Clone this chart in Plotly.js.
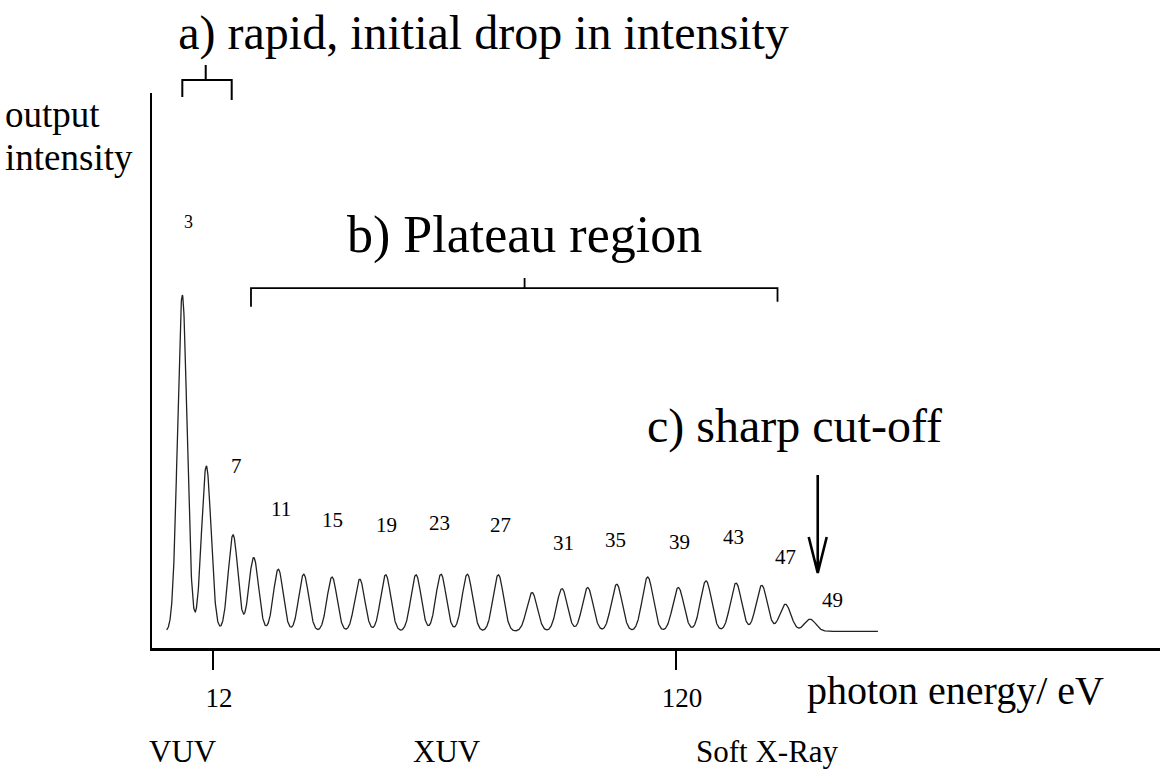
<!DOCTYPE html>
<html><head><meta charset="utf-8">
<script src="https://cdn.plot.ly/plotly-3.0.1.min.js"></script>
<style>html,body{margin:0;padding:0;background:#fff}#chart{width:1161px;height:772px}</style>
</head><body><div id="chart"></div>
<script>
// ---- data ----
const harmonicOrder = [3,5,7,9,11,13,15,17,19,21,23,25,27,29,31,33,35,37,39,41,43,45,47,49];
const peakEnergyEv  = [4.84,10.44,16.67,21.49,27.23,33.16,39.76,46.22,52.28,59.35,65.18,71.32,78.55,86.41,93.41,99.40,106.17,113.40,120.54,127.00,134.00,139.99,145.50,151.26];
const peakIntensity = [63.6,32.8,20.4,16.3,14.2,13.3,12.8,12.4,13.2,13.2,13.3,13.3,13.2,10.0,10.7,10.9,11.5,12.8,10.9,12.1,11.7,11.3,7.9,5.2];
const backgroundLevel = 3.0;
const spectrumStartEv = 1.2;
const spectrumEndEv = 167.1;
const labelledOrders = [3,7,11,15,19,23,27,31,35,39,43,47,49];
const tickEnergies = [12,120];
const tickLabels = ['12','120'];
const bandNames = ['VUV','XUV','Soft X-Ray'];
const bandCentreEv = [5.1,66.6,141.3];

// ---- build the spectrum line from the harmonic peaks ----
const xs = [], ys = [];
const step = 0.05;
const n = Math.round((spectrumEndEv - spectrumStartEv) / step);
for (let i = 0; i <= n; i++) {
  const e = spectrumStartEv + i * step;
  let v = backgroundLevel;
  for (let k = 0; k < harmonicOrder.length; k++) {
    const s = 1.1 + 0.0015 * peakEnergyEv[k];
    const d = e - peakEnergyEv[k];
    v += (peakIntensity[k] - backgroundLevel) * Math.exp(-d * d / (2 * s * s));
  }
  xs.push(e); ys.push(v);
}

const SERIF = 'Liberation Serif, Times New Roman, serif';

// label placement relative to each peak tip (pixels)
const labelOffset = {3:[6,73,18],7:[3,69,21],11:[3,60,21],15:[0,57,21],19:[1,50,21],23:[-1,51,21],27:[2,50,21],
  31:[1,46,21],35:[-1,44,21],39:[1,46,21],43:[-3,46,21],47:[0,47,21],49:[22,19,21]};

const annotations = [];
labelledOrders.forEach(o => {
  const k = harmonicOrder.indexOf(o);
  const off = labelOffset[o];
  annotations.push({x: peakEnergyEv[k], y: peakIntensity[k], xref:'x', yref:'y', text: String(o),
    showarrow:false, xanchor:'center', yanchor:'middle', xshift: off[0], yshift: off[1],
    font:{family:SERIF, size: off[2], color:'#000'}});
});
bandNames.forEach((b,i) => {
  annotations.push({x: bandCentreEv[i], y: -0.1865, xref:'x', yref:'paper', text:b, showarrow:false,
    xanchor:'center', yanchor:'middle', font:{family:SERIF, size:31, color:'#000'}});
});
annotations.push({x:150.1, y:-0.077, xref:'x', yref:'paper', text:'photon energy/ eV', showarrow:false,
  xanchor:'left', yanchor:'middle', font:{family:SERIF, size:40, color:'#000'}});
annotations.push({x:-0.1468, y:0.9604, xref:'paper', yref:'paper', text:'output', showarrow:false,
  xanchor:'left', yanchor:'middle', font:{family:SERIF, size:37, color:'#000'}, borderpad:0});
annotations.push({x:-0.1468, y:0.8829, xref:'paper', yref:'paper', text:'intensity', showarrow:false,
  xanchor:'left', yanchor:'middle', font:{family:SERIF, size:37, color:'#000'}, borderpad:0});
annotations.push({x:84.68, y:74.5, xref:'x', yref:'y', text:'b) Plateau region', showarrow:false,
  xanchor:'center', yanchor:'middle', font:{family:SERIF, size:52, color:'#000'}});
annotations.push({x:147.53, y:40.0, xref:'x', yref:'y', text:'c) sharp cut-off', showarrow:false,
  xanchor:'center', yanchor:'middle', font:{family:SERIF, size:48, color:'#000'}});

// brackets and arrow (annotation graphics)
const brA = {l:4.84, r:16.36, c:10.30, top:1.0234, legL:0.9928, legR:0.9874, tick:1.0505};
const brB = {l:20.86, r:143.68, c:84.68, top:64.86, legL:61.5, legR:62.4, tick:66.67};
const arr = {x:153.06, y0:31.17, y1:13.51, hw:2.1, hy:20.0};
const shapes = [
  {type:'path', xref:'x', yref:'paper', line:{color:'#000', width:2},
   path:`M${brA.l},${brA.legL} L${brA.l},${brA.top} L${brA.r},${brA.top} L${brA.r},${brA.legR} M${brA.c},${brA.top} L${brA.c},${brA.tick}`},
  {type:'path', xref:'x', yref:'y', line:{color:'#000', width:1.8},
   path:`M${brB.l},${brB.legL} L${brB.l},${brB.top} L${brB.r},${brB.top} L${brB.r},${brB.legR} M${brB.c},${brB.top} L${brB.c},${brB.tick}`},
  {type:'path', xref:'x', yref:'y', line:{color:'#000', width:2.6},
   path:`M${arr.x},${arr.y0} L${arr.x},${arr.y1} M${arr.x-arr.hw},${arr.hy} L${arr.x},${arr.y1} L${arr.x+arr.hw},${arr.hy}`}
];

const trace = {x: xs, y: ys, type:'scatter', mode:'lines', line:{color:'#222', width:1.3}, hoverinfo:'skip'};

const layout = {
  width:1161, height:772,
  margin:{l:152, r:1, t:93, b:124, pad:0},
  paper_bgcolor:'#fff', plot_bgcolor:'#fff',
  showlegend:false,
  font:{family:SERIF, color:'#000'},
  title:{text:'a) rapid, initial drop in intensity', font:{family:SERIF, size:48, color:'#000'},
    x:0.4165, xref:'container', xanchor:'center', y:0.958, yref:'container', yanchor:'middle'},
  xaxis:{range:[-2.23, 232.9], showline:true, linecolor:'#000', linewidth:3, showgrid:false, zeroline:false,
    ticks:'outside', ticklen:19, tickwidth:2, tickcolor:'#000', tickvals:tickEnergies, ticktext:tickLabels,
    tickfont:{family:SERIF, size:27, color:'#000'}, ticklabelstandoff:5, ticklabelshift:6},
  yaxis:{range:[0,100], showline:true, linecolor:'#000', linewidth:2.5, showgrid:false, zeroline:false,
    ticks:'', showticklabels:false},
  annotations: annotations,
  shapes: shapes
};
Plotly.newPlot('chart', [trace], layout, {staticPlot:true, displayModeBar:false});
</script></body></html>
